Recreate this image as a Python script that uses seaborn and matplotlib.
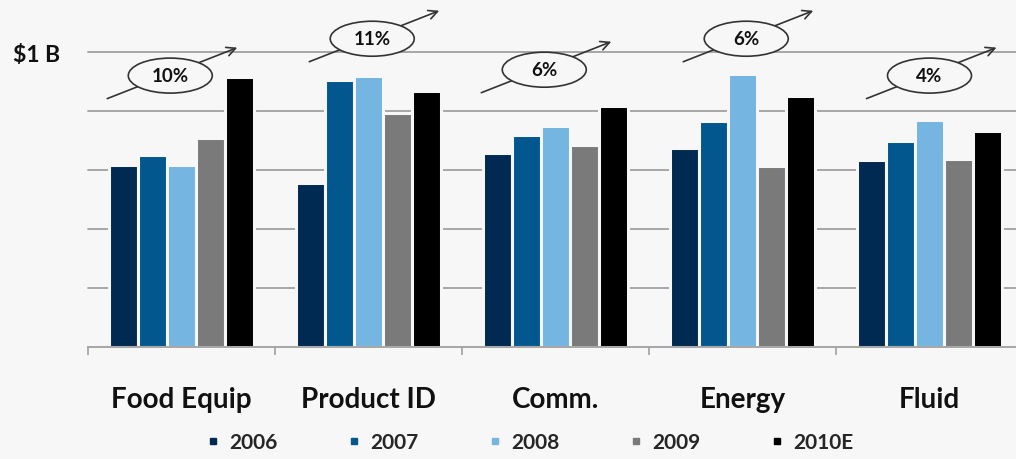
import matplotlib
matplotlib.use("Agg")
import matplotlib.pyplot as plt
from matplotlib.patches import Ellipse
from matplotlib.lines import Line2D
import seaborn as sns
import pandas as pd

# ---- data ----
categories = ["Food Equip", "Product ID", "Comm.", "Energy", "Fluid"]
years = ["2006", "2007", "2008", "2009", "2010E"]
v2006 = [0.617, 0.556, 0.656, 0.673, 0.634]
v2007 = [0.652, 0.905, 0.718, 0.766, 0.697]
v2008 = [0.617, 0.917, 0.749, 0.925, 0.769]
v2009 = [0.708, 0.793, 0.685, 0.613, 0.637]
v2010 = [0.915, 0.868, 0.817, 0.851, 0.732]
growth_labels = ["10%", "11%", "6%", "6%", "4%"]
ytick_values = [0.2, 0.4, 0.6, 0.8, 1.0]
ytick_labels = ["", "", "", "", "$1 B"]

colors = ["#012a52", "#02588e", "#74b5e1", "#7a7a7a", "#000000"]
bg = "#f7f7f7"

rows = []
for y, vals in zip(years, [v2006, v2007, v2008, v2009, v2010]):
    for c, v in zip(categories, vals):
        rows.append({"Category": c, "Year": y, "Value": v})
df = pd.DataFrame(rows)

sns.set_style("white")
plt.rcParams["font.family"] = ["Lato", "DejaVu Sans"]

W, H = 1016, 460
fig = plt.figure(figsize=(W / 100, H / 100), dpi=100, facecolor=bg)
ax_left, ax_right, ax_bot, ax_top = 88, 1023, 348, 53
ax = fig.add_axes([ax_left / W, (H - ax_bot) / H, (ax_right - ax_left) / W, (ax_bot - ax_top) / H])
ax.set_facecolor(bg)

sns.barplot(data=df, x="Category", y="Value", hue="Year", order=categories,
            hue_order=years, palette=colors, width=0.775, gap=0.0,
            edgecolor=bg, linewidth=2.2, saturation=1, ax=ax, legend=False, zorder=3)

ax.set_xlim(-0.5, 4.5)
ax.set_ylim(0, 1.0)
ax.set_yticks(ytick_values)
ax.set_yticklabels(ytick_labels, fontsize=16.5, fontweight="bold", color="#111111")
ax.tick_params(axis="y", length=0, pad=20)
for yv in ytick_values:
    ax.axhline(yv, color="#a0a0a0", lw=1.3, zorder=1, clip_on=False)

ax.set_xlabel("")
ax.set_ylabel("")
ax.set_xticks(range(len(categories)))
ax.set_xticklabels(categories, fontsize=20, fontweight="bold", color="#111111")
ax.tick_params(axis="x", which="major", length=0, pad=28)
ax.set_xticks([i - 0.5 for i in range(len(categories) + 1)], minor=True)
ax.tick_params(axis="x", which="minor", bottom=True, length=6, width=1.2,
               color="#a0a0a0", direction="out")

for s in ["top", "right", "left"]:
    ax.spines[s].set_visible(False)
ax.spines["bottom"].set_color("#a0a0a0")
ax.spines["bottom"].set_linewidth(1.3)
ax.spines["bottom"].set_zorder(4)

# growth annotations (ellipse with arrow)
px_x = 1.0 / 187.0
px_y = 1.0 / 295.0
ell_centers = [(-0.06, 0.92), (0.02, 1.045), (-0.06, 0.94), (0.02, 1.045), (0.0, 0.92)]
for i, lab in enumerate(growth_labels):
    cx = i + ell_centers[i][0]
    cy = ell_centers[i][1]
    start = (cx - 63 * px_x, cy - 23 * px_y)
    end = (cx + 67 * px_x, cy + 28 * px_y)
    ax.annotate("", xy=end, xytext=start,
                arrowprops=dict(arrowstyle="->", color="#333333", lw=1.2,
                                shrinkA=0, shrinkB=0, mutation_scale=16),
                annotation_clip=False, zorder=5)
    e = Ellipse((cx, cy), 84 * px_x, 35 * px_y, facecolor=bg, edgecolor="#333333",
                lw=1.2, clip_on=False, zorder=6)
    ax.add_patch(e)
    ax.text(cx, cy, lab, ha="center", va="center", fontsize=13.5, fontweight="bold",
            color="#111111", zorder=7, clip_on=False)

handles = [Line2D([0], [0], marker="s", linestyle="none", markersize=5,
                  markerfacecolor=c, markeredgecolor=c) for c in colors]
fig.legend(handles, years, loc="center", bbox_to_anchor=(530 / W, 17 / H),
           ncol=5, frameon=False, handlelength=0.6, handletextpad=0.45,
           columnspacing=3.4, prop={"weight": "bold", "size": 15})

fig.savefig("out.png", dpi=100, facecolor=bg)
